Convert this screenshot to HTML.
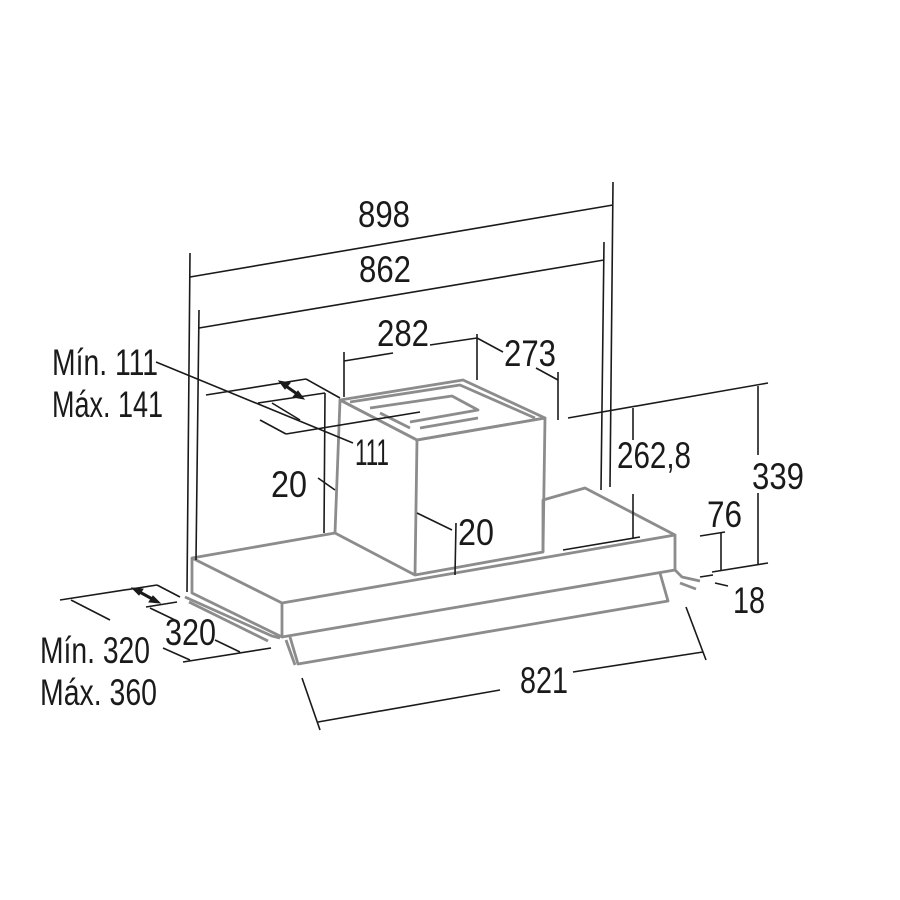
<!DOCTYPE html>
<html><head><meta charset="utf-8"><style>
html,body{margin:0;padding:0;background:#fff}
svg{display:block}
text{font-family:"Liberation Sans",sans-serif;font-size:37px;fill:#1a1a1a}
</style></head><body>
<svg width="900" height="900" viewBox="0 0 900 900" xmlns="http://www.w3.org/2000/svg">
<g fill="none" stroke="#8c8c8c" stroke-width="2.8" stroke-linejoin="round">
<polygon points="192,558 335,533 415,575 543,552 543,500 585,488 675,535 282,603"/>
<polyline points="192,558 192,593 282,637 282,603"/>
<polyline points="282,637 675,570 675,535"/>
<polyline points="185,597 272,636 280,638"/>
<polyline points="189,602 268,641"/>
<polyline points="290,637 298,664 668,601 660,573"/>
<line x1="286" y1="640" x2="295" y2="665"/>
<polyline points="675,570 682,577 700,581"/>
<polyline points="680,583 696,589"/>
<polyline points="335,533 340,400 417,440 415,575"/>
<polyline points="417,440 545,418 543,552"/>
<polygon points="340,400 463,380 545,418 417,440"/>
<polyline points="350,402 460,385 535,418"/>
<polyline points="370,408 452,396 478,410 410,422"/>
<polyline points="380,413 410,428"/>
<polyline points="420,428 478,418"/>
</g>
<g fill="none" stroke="#1a1a1a" stroke-width="1.6">
<line x1="190" y1="277" x2="613" y2="205"/>
<line x1="190" y1="253" x2="187" y2="592"/>
<line x1="613" y1="182" x2="610" y2="487"/>
<line x1="199" y1="328" x2="604" y2="260"/>
<line x1="199" y1="310" x2="196" y2="560"/>
<line x1="604" y1="242" x2="601" y2="490"/>
<line x1="344" y1="352" x2="344" y2="397"/>
<line x1="344" y1="361" x2="393" y2="353"/>
<line x1="430" y1="345" x2="477" y2="338"/>
<line x1="477" y1="334" x2="477" y2="380"/>
<line x1="477" y1="338" x2="503" y2="352"/>
<line x1="536" y1="368" x2="558" y2="380"/>
<line x1="558" y1="372" x2="558" y2="420"/>
<line x1="156" y1="362" x2="353" y2="443"/>
<line x1="206" y1="395" x2="306" y2="379"/>
<line x1="306" y1="379" x2="340" y2="398"/>
<line x1="258" y1="403" x2="325" y2="393"/>
<line x1="272" y1="403" x2="300" y2="420" />
<line x1="286" y1="434" x2="420" y2="412"/>
<line x1="325" y1="393" x2="324" y2="533"/>
<line x1="286" y1="434" x2="260" y2="420"/>
<line x1="318" y1="478" x2="335" y2="490"/>
<line x1="417" y1="513" x2="452" y2="530"/>
<line x1="456" y1="523" x2="455" y2="575"/>
<line x1="568" y1="418" x2="768" y2="383"/>
<line x1="633" y1="408" x2="633" y2="440"/>
<line x1="633" y1="494" x2="633" y2="538"/>
<line x1="563" y1="550" x2="640" y2="537"/>
<line x1="758" y1="386" x2="758" y2="455"/>
<line x1="758" y1="493" x2="758" y2="565"/>
<line x1="712" y1="572" x2="768" y2="563"/>
<line x1="700" y1="536" x2="725" y2="532"/>
<line x1="721" y1="533" x2="721" y2="571"/>
<line x1="700" y1="577" x2="713" y2="575"/>
<line x1="715" y1="583" x2="728" y2="586"/>
<line x1="302" y1="678" x2="320" y2="730"/>
<line x1="318" y1="722" x2="500" y2="690"/>
<line x1="573" y1="672" x2="703" y2="652"/>
<line x1="686" y1="607" x2="706" y2="660"/>
<line x1="60" y1="600" x2="157" y2="585"/>
<line x1="157" y1="585" x2="180" y2="597"/>
<line x1="146" y1="607" x2="177" y2="602"/>
<line x1="71" y1="600" x2="110" y2="620"/>
<line x1="150" y1="608" x2="175" y2="620"/>
<line x1="215" y1="640" x2="240" y2="652"/>
<line x1="163" y1="648" x2="190" y2="660"/>
<line x1="183" y1="662" x2="271" y2="648"/>
</g>
<g stroke="#1a1a1a" stroke-width="3" fill="#1a1a1a">
<line x1="283" y1="384" x2="300" y2="396"/>
<polygon points="279,381 290,383 285,389" stroke-width="1"/>
<polygon points="304,399 293,397 298,391" stroke-width="1"/>
<line x1="136" y1="590" x2="156" y2="601"/>
<polygon points="132,588 143,589 139,595" stroke-width="1"/>
<polygon points="160,603 149,602 153,596" stroke-width="1"/>
</g>
<g>
<text x="358" y="227" textLength="52" lengthAdjust="spacingAndGlyphs">898</text>
<text x="359" y="282" textLength="52" lengthAdjust="spacingAndGlyphs">862</text>
<text x="377" y="346" textLength="52" lengthAdjust="spacingAndGlyphs">282</text>
<text x="504" y="366" textLength="52" lengthAdjust="spacingAndGlyphs">273</text>
<text x="52" y="375" textLength="106" lengthAdjust="spacingAndGlyphs">Mín. 111</text>
<text x="52" y="417" textLength="111" lengthAdjust="spacingAndGlyphs">Máx. 141</text>
<text x="355" y="465" textLength="34" lengthAdjust="spacingAndGlyphs">111</text>
<text x="271" y="497" textLength="36" lengthAdjust="spacingAndGlyphs">20</text>
<text x="458" y="545" textLength="36" lengthAdjust="spacingAndGlyphs">20</text>
<text x="617" y="468" textLength="74" lengthAdjust="spacingAndGlyphs">262,8</text>
<text x="752" y="489" textLength="52" lengthAdjust="spacingAndGlyphs">339</text>
<text x="707" y="527" textLength="35" lengthAdjust="spacingAndGlyphs">76</text>
<text x="733" y="613" textLength="32" lengthAdjust="spacingAndGlyphs">18</text>
<text x="165" y="645" textLength="51" lengthAdjust="spacingAndGlyphs">320</text>
<text x="40" y="663" textLength="110" lengthAdjust="spacingAndGlyphs">Mín. 320</text>
<text x="40" y="705" textLength="117" lengthAdjust="spacingAndGlyphs">Máx. 360</text>
<text x="520" y="693" textLength="48" lengthAdjust="spacingAndGlyphs">821</text>
</g>
</svg>
</body></html>
